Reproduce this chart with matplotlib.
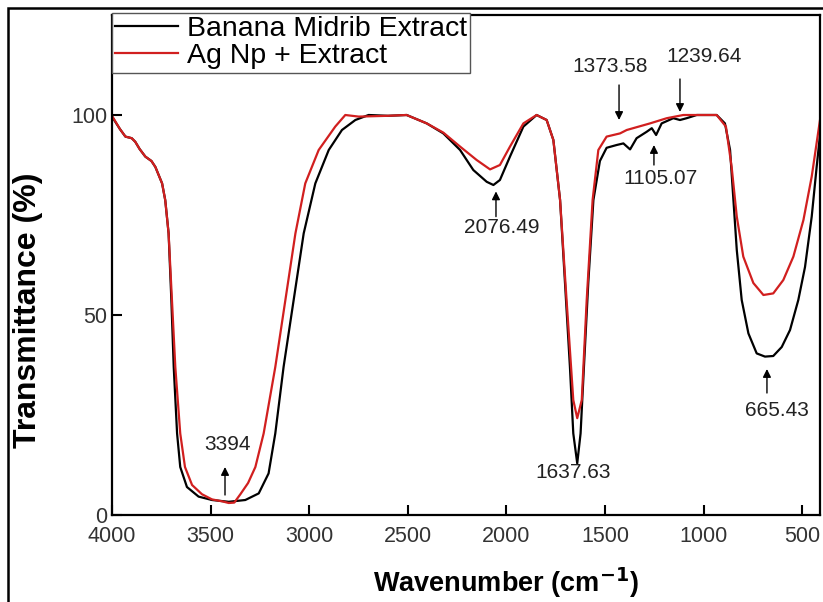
import matplotlib
matplotlib.use("Agg")
import matplotlib.pyplot as plt
from matplotlib.patches import Rectangle

plt.rcParams['font.family'] = ['Liberation Sans', 'DejaVu Sans']

# Banana Midrib Extract (black)
black_wn = [4000, 3960, 3932, 3900, 3882, 3860, 3831, 3800, 3780, 3746, 3730, 3713, 3699, 3687,
            3670, 3654, 3620, 3561, 3493, 3408, 3324, 3256, 3206, 3172, 3130, 3079, 3028,
            2969, 2901, 2834, 2766, 2699, 2600, 2506, 2404, 2320, 2235, 2168, 2100, 2066,
            2033, 1982, 1914, 1847, 1796, 1762, 1728, 1703, 1678, 1661, 1641, 1624, 1607,
            1585, 1559, 1526, 1492, 1441, 1407, 1373, 1340, 1289, 1263, 1241, 1213, 1154,
            1120, 1086, 1035, 934, 892, 866, 849, 832, 807, 773, 731, 689, 647, 604, 562,
            520, 486, 452, 427, 402]
black_t = [99.6, 96.5, 94.6, 94.2, 93.3, 91.5, 89.6, 88.5, 87.0, 82.9, 78.7, 70.4, 53.7, 37,
           20.4, 12, 7, 4.6, 3.75, 3.3, 3.75, 5.4, 10.4, 20.4, 37, 53.7, 70.4,
           82.9, 91.25, 96.25, 98.75, 100, 99.8, 100, 97.9, 95.4, 91.25, 86.25, 83.3, 82.5,
           83.75, 89.6, 97.1, 100, 98.75, 93.75, 78.75, 58, 37, 20.4, 12.9, 20.4, 37,
           58, 78.75, 88.5, 91.8, 92.5, 92.9, 91.4, 94.2, 95.8, 96.7, 95, 97.9, 99.2,
           98.75, 99.2, 100, 100, 97.9, 91.25, 78.75, 66.25, 53.75, 45.4, 40.4, 39.6, 39.75, 42, 46.25,
           53.75, 62, 74.6, 87, 98.75]

# Ag Np + Extract (red)
red_wn = [4000, 3960, 3932, 3900, 3882, 3860, 3831, 3800, 3780, 3746, 3730, 3713, 3696, 3679,
          3654, 3630, 3594, 3544, 3493, 3440, 3408, 3380, 3349, 3310, 3273, 3231, 3172,
          3121, 3070, 3020, 2952, 2868, 2817, 2749, 2600, 2506, 2404, 2320, 2235, 2151,
          2083, 2033, 1982, 1914, 1847, 1796, 1762, 1728, 1695, 1661, 1641, 1618, 1593,
          1563, 1534, 1492, 1424, 1390, 1272, 1187, 1103, 934, 887, 858, 832, 799, 748,
          697, 647, 596, 545, 494, 452, 410]
red_t = [99.8, 96.5, 94.6, 94.2, 93.3, 91.5, 89.6, 88.5, 87.0, 82.9, 78.7, 70.4, 53.7, 37,
         20.4, 12, 7.5, 5.2, 3.9, 3.4, 3.0, 3.1, 5.2, 8, 12, 20.4, 37,
         53.7, 70.4, 82.9, 91.25, 97.1, 100, 99.6, 99.8, 100, 97.9, 95.6, 92.1, 88.75,
         86.4, 87.5, 92.1, 97.9, 100, 98.75, 93.75, 78.75, 53.7, 28.75, 24.2, 28.75, 53.7,
         78.75, 91.25, 94.6, 95.4, 96.25, 97.9, 99.2, 100, 100, 97.1, 87, 74.6, 64.6, 58,
         55, 55.4, 58.75, 64.6, 73.75, 84.6, 98.75]

# peak labels: text, text position, arrow tail, arrow head
peak_labels = ["3394", "2076.49", "1637.63", "1373.58", "1239.64", "1105.07", "665.43"]
label_pos = [(3412, 17.5), (2022, 71.9), (1662, 10.6), (1475, 112), (998, 114.5), (1221, 84.25), (628, 26.25)]
arrow_tail = [(3427, 5), (2053, 74.6), None, (1429, 107.5), (1120, 109), (1252, 87.5), (679, 30.5)]
arrow_head = [(3427, 12), (2053, 80.9), None, (1429, 98.75), (1120, 100.75), (1252, 92.5), (679, 36.5)]

fig = plt.figure(figsize=(8.23, 6.02), dpi=100)
ax = fig.add_axes([112 / 823, 1 - 515 / 602, 708 / 823, 500 / 602])

ax.plot(black_wn, black_t, color='black', lw=1.6, label='Banana Midrib Extract')
ax.plot(red_wn, red_t, color='#d11f1f', lw=1.6, label='Ag Np + Extract')

for txt, pos, tail, head in zip(peak_labels, label_pos, arrow_tail, arrow_head):
    ax.text(pos[0], pos[1], txt, ha='center', va='center', fontsize=15, color='#222222')
    if tail is not None:
        ax.annotate('', xy=head, xytext=tail,
                    arrowprops=dict(arrowstyle='-|>', color='black', lw=1, mutation_scale=12,
                                    shrinkA=0, shrinkB=0))

ax.set_xlim(4000, 410)
ax.set_ylim(0, 125)
ax.set_xticks([4000, 3500, 3000, 2500, 2000, 1500, 1000, 500])
ax.set_yticks([0, 50, 100])
ax.tick_params(direction='in', length=7, width=1.5, labelsize=15.5, colors='black')
ax.tick_params(axis='x', pad=8)
for lbl in ax.get_xticklabels() + ax.get_yticklabels():
    lbl.set_color('#333333')
for sp in ax.spines.values():
    sp.set_linewidth(1.6)

ax.set_xlabel(r'Wavenumber (cm$^{\mathbf{-1}}$)', fontsize=19.5, fontweight='bold')
ax.xaxis.set_label_coords((506 - 112) / 708, -0.102)
ax.set_ylabel('Transmittance (%)', fontsize=23, fontweight='bold')
ax.yaxis.set_label_coords(-0.097, (515 - 310) / 500)

leg = ax.legend(loc='upper left', bbox_to_anchor=(0, 1.005), borderaxespad=0, fontsize=20.5,
                frameon=True, fancybox=False, edgecolor='#555555', handlelength=2.2,
                handletextpad=0.3, labelspacing=0.05, borderpad=0.12)
leg.get_frame().set_linewidth(1.0)
leg.get_frame().set_alpha(1)

# outer frame around the figure
fig.add_artist(Rectangle((8 / 823, -0.1), 1.2, 1.1 - 8 / 602, transform=fig.transFigure,
                         fill=False, edgecolor='black', lw=1.8))

fig.savefig('out.png', dpi=100)
